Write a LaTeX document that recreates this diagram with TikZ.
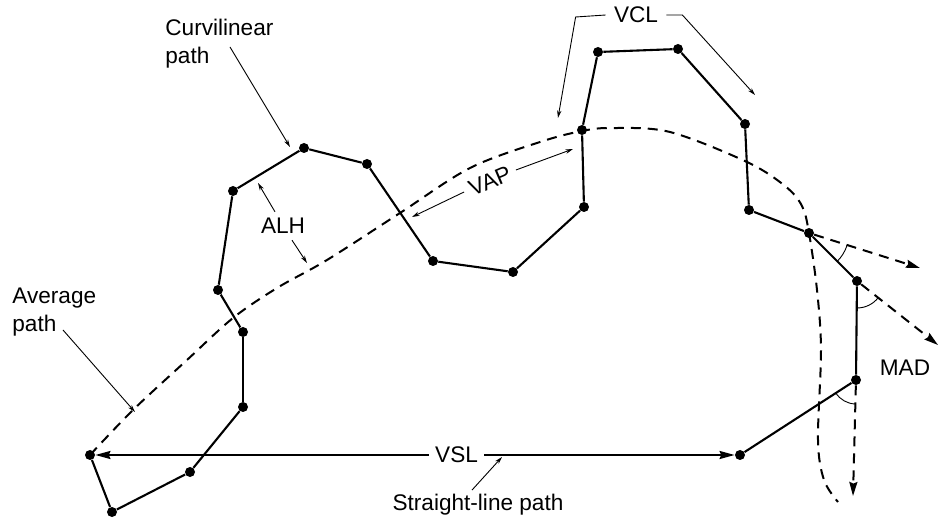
\documentclass[tikz,border=0pt]{standalone}
\usepackage{fontspec}
\setmainfont{Liberation Sans}
\usetikzlibrary{positioning, calc, arrows.meta}

\begin{document}
\begin{tikzpicture}[x=0.5pt, y=-0.5pt, font=\fontsize{11.3}{14}\selectfont,
			dot/.style={circle, fill, inner sep=0pt, minimum size=5pt},
			trajeto/.style={line width=1.05pt},
			medio/.style={line width=1pt, dash pattern=on 5pt off 3.5pt},
			tangente/.style={medio, -{Stealth[inset=0.8pt, length=7pt, width=4pt]}},
			vsl/.style={line width=1pt, {Stealth[inset=0.8pt, length=7.5pt, width=4pt]}-{Stealth[inset=0.8pt, length=7.5pt, width=4pt]}},
			guia/.style={line width=0.45pt, -{Stealth[length=3.8pt, width=2.2pt]}},
			angulo/.style={line width=0.45pt},
			rotulo/.style={inner sep=0pt, align=left} ]
			\useasboundingbox (0,0) rectangle (939,519);
			
			%Pontos do caminho curvilineo:
			\node[dot] (A) at (90,455)  {};
			\node[dot] (B) at (112,512) {};
			\node[dot] (C) at (190,472) {};
			\node[dot] (D) at (243,407) {};
			\node[dot] (E) at (243,332) {};
			\node[dot] (F) at (218,290) {};
			\node[dot] (G) at (233,191) {};
			\node[dot] (H) at (304,148) {};
			\node[dot] (I) at (367,164) {};
			\node[dot] (J) at (433,261) {};
			\node[dot] (K) at (513,272) {};
			\node[dot] (L) at (584,207) {};
			\node[dot] (M) at (582,130) {};
			\node[dot] (N) at (598,52)  {};
			\node[dot] (O) at (678,49)  {};
			\node[dot] (P) at (745,124) {};
			\node[dot] (Q) at (749,210) {};
			\node[dot] (R) at (809,233) {};
			\node[dot] (S) at (857,281) {};
			\node[dot] (T) at (856,380) {};
			\node[dot] (U) at (740,455) {};
			
			\path[trajeto]
			(A) edge (B)   (B) edge (C)   (C) edge (D)   (D) edge (E)
			(E) edge (F)   (F) edge (G)   (G) edge (H)   (H) edge (I)
			(I) edge (J)   (J) edge (K)   (K) edge (L)   (L) edge (M)
			(M) edge (N)   (N) edge (O)   (O) edge (P)   (P) edge (Q)
			(Q) edge (R)   (R) edge (S)   (S) edge (T)   (T) edge (U);
			
			%Caminho medio:
			\draw[medio] plot[smooth, tension=0.55] coordinates {(A.center) (133,410) (187,360)
				(233,318) (277,288) (327,260) (400,213) (470,168) (540,142) (582,131) (612,128)
				(670,132) (747,162) (785,186) (802,206) (R.center) (817,290) (821,350) (818,440)
				(824,480) (838,502)};
			
			%Linha reta:
			\draw[vsl] (A) -- node[fill=white, pos=0.565, inner xsep=3pt, inner ysep=1pt] (vslrot) {VSL} (U);
			
			%Desvios angulares:
			\coordinate (tR) at (920,268);
			\coordinate (tS) at (938,345);
			\coordinate (tT) at (853,496);
			\draw[tangente] (R) -- (tR);
			\draw[tangente] (S) -- (tS);
			\draw[tangente] (T) -- (tT);
			\draw[angulo] ([shift={(-45:20pt)}]R.center) arc[start angle=-45, end angle=-17.5, radius=20pt];
			\draw[angulo] ([shift={(-90.6:13.5pt)}]S.center) arc[start angle=-90.6, end angle=-38.3, radius=13.5pt];
			\draw[angulo] ([shift={(-147:12pt)}]T.center) arc[start angle=-147, end angle=-91.5, radius=12pt];
			
			%Rotulos:
			\node[rotulo, anchor=north west] (curv) at (165,19)  {Curvilinear\\path};
			\node[rotulo, anchor=north west] (medi) at (12,288)  {Average\\path};
			\node[inner sep=3pt]             (alh)  at (283,226) {ALH};
			\node[inner sep=3pt, rotate=23]  (vap)  at (490,181) {VAP};
			\node[inner sep=4pt]             (vcl)  at (636,15)  {VCL};
			\node[inner sep=0pt]             (mad)  at (905,368) {MAD};
			\node[inner sep=2pt]             (reta) at (478,505) {Straight-line path};
			
			\coordinate (curvA) at (230,47);
			\coordinate (curvB) at (290,147);
			\coordinate (mediA) at (63,330);
			\coordinate (mediB) at (135,412);
			\coordinate (alhA)  at (258,183);
			\coordinate (alhB)  at (307,263);
			\coordinate (vapA)  at (573,149);
			\coordinate (vapB)  at (412,217);
			\coordinate (vclA)  at (558,118);
			\coordinate (vclB)  at (755,95);
			\coordinate (retaA) at (502,457);
			
			\draw[guia] (curvA) -- (curvB);
			\draw[guia] (mediA) -- (mediB);
			\draw[guia] ([xshift=-4pt]alh.north) -- (alhA);
			\draw[guia] ([xshift=4.5pt]alh.south) -- (alhB);
			\draw[guia] (vap.east) -- (vapA);
			\draw[guia] (vap.west) -- (vapB);
			\draw[guia] (vcl.west) -- ++(-15pt,-1pt) -- (vclA);
			\draw[guia] (vcl.east) -- ++(8pt,0pt) -- (vclB);
			\draw[guia] ([xshift=-3pt]reta.north) -- (retaA);
		\end{tikzpicture}
\end{document}
